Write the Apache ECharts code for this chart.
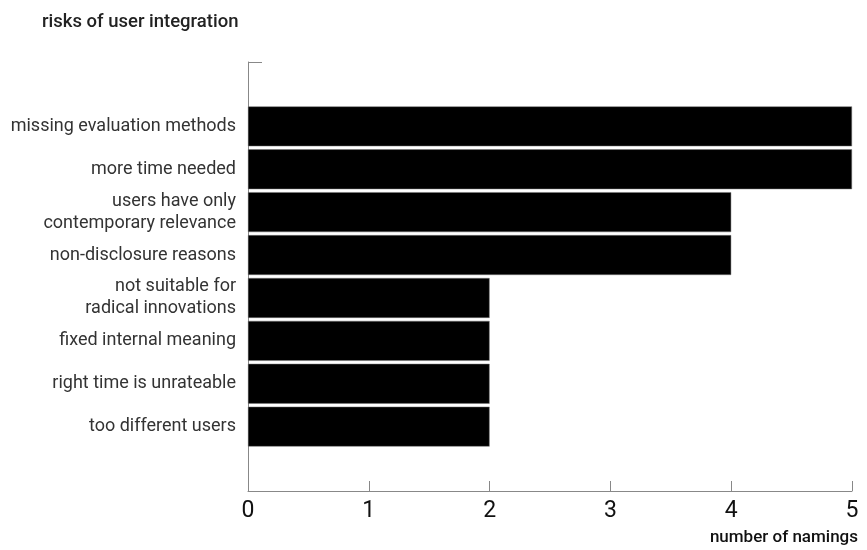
<!DOCTYPE html>
<html><head><meta charset="utf-8">
<script src="https://cdn.jsdelivr.net/npm/echarts@6/dist/echarts.min.js"></script>
<style>html,body{margin:0;padding:0;background:#fff}#c{width:867px;height:550px}</style>
</head><body><div id="c"></div>
<script>
var categories = [
  'missing evaluation methods',
  'more time needed',
  'users have only\ncontemporary relevance',
  'non-disclosure reasons',
  'not suitable for\nradical innovations',
  'fixed internal meaning',
  'right time is unrateable',
  'too different users'
];
var values = [5, 5, 4, 4, 2, 2, 2, 2];
var xTicks = [0, 1, 2, 3, 4, 5];

// pad with empty slots above and below
var cats = [''].concat(categories).concat(['']);
var vals = ['-'].concat(values).concat(['-']);

var chart = echarts.init(document.getElementById('c'));
var FONT = 'Roboto, "Noto Sans", sans-serif';
chart.setOption({
  animation: false,
  title: [
    {text: 'risks of user integration', left: 37, top: 8,
     textStyle: {fontFamily: FONT, fontSize: 18.5, fontWeight: 500, color: '#222'}},
    {text: 'number of namings', right: 4, bottom: -1,
     textStyle: {fontFamily: FONT, fontSize: 17, fontWeight: 500, color: '#111'}}
  ],
  grid: {left: 248, right: 15, top: 62, bottom: 59, containLabel: false},
  xAxis: {
    type: 'value', min: xTicks[0], max: xTicks[xTicks.length - 1], interval: 1,
    axisLine: {show: true, lineStyle: {color: '#888', width: 1}},
    axisTick: {show: true, inside: true, length: 10, lineStyle: {color: '#888'}},
    splitLine: {show: false},
    axisLabel: {fontFamily: FONT, fontSize: 23, color: '#111', margin: 9}
  },
  yAxis: {
    type: 'category', inverse: true, data: cats,
    axisLine: {show: true, lineStyle: {color: '#888', width: 1}},
    axisTick: {show: false},
    axisLabel: {fontFamily: FONT, fontSize: 18, color: '#333', margin: 12, lineHeight: 22}
  },
  graphic: [{
    type: 'line', shape: {x1: 248, y1: 62.5, x2: 262, y2: 62.5},
    style: {stroke: '#888', lineWidth: 1}
  }],
  series: [{
    type: 'bar', data: vals, barCategoryGap: '7%',
    itemStyle: {color: '#000', borderColor: '#777', borderWidth: 0.5}
  }]
});
</script></body></html>
